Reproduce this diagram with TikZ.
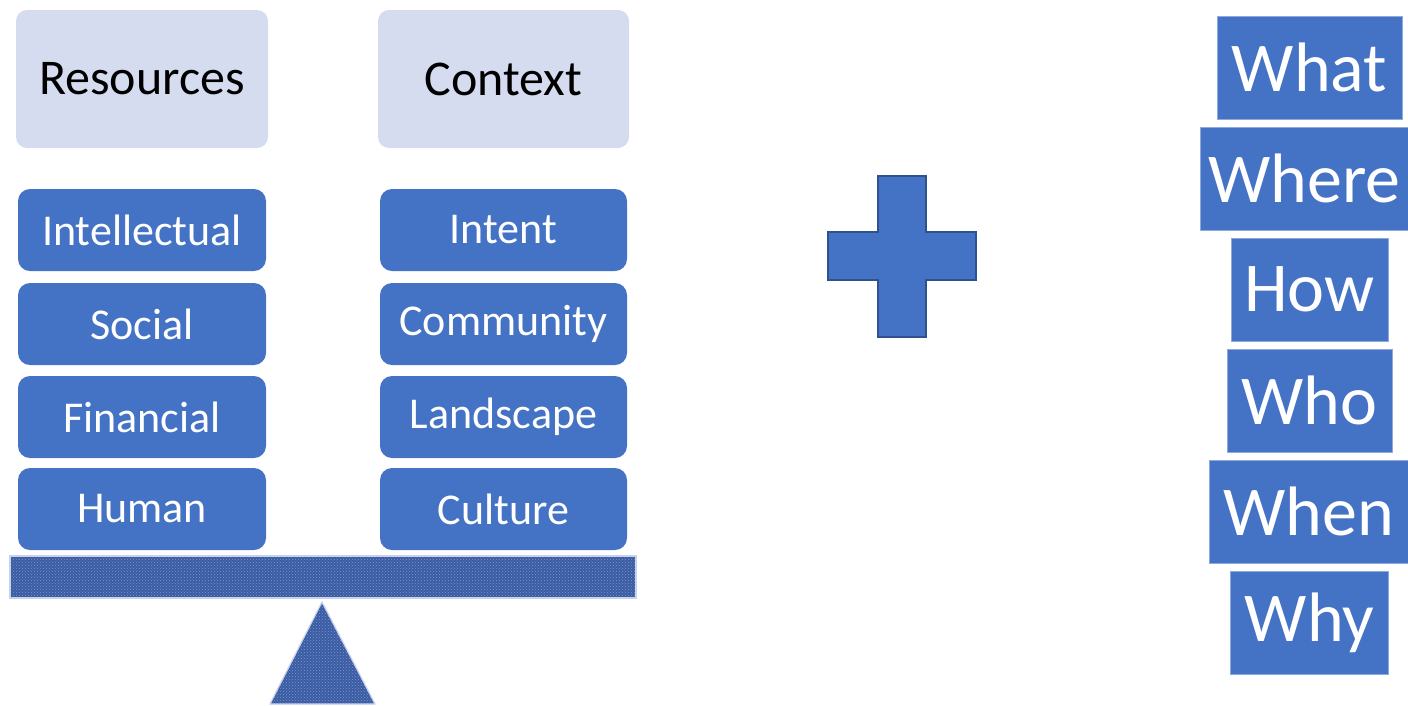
\documentclass[tikz,border=0pt]{standalone}
\usepackage{fontspec}
\setmainfont{Carlito}
\usetikzlibrary{patterns}
\definecolor{officeblue}{HTML}{4472C4}
\definecolor{lightbox}{HTML}{D6DCEF}
\definecolor{darkedge}{HTML}{2F528F}
\definecolor{beamblue}{HTML}{3A5CA3}
\definecolor{dotblue}{HTML}{7E96CC}
\definecolor{beamedge}{HTML}{C9D2EC}
\definecolor{wordedge}{HTML}{8EA9DB}
\tikzset{
  headbox/.style={rectangle, rounded corners=11pt, fill=lightbox, inner sep=0pt,
    minimum width=252pt, minimum height=138pt, font=\fontsize{50}{52}\selectfont, text=black},
  itembox/.style={rectangle, rounded corners=12pt, fill=officeblue, inner sep=0pt,
    minimum width=248pt, minimum height=82pt, font=\fontsize{44}{46}\selectfont, text=white},
  wordbox/.style={rectangle, fill=officeblue, draw=wordedge, line width=0.6pt, inner sep=0pt,
    minimum height=103pt, font=\fontsize{70}{72}\selectfont, text=white},
  beamstyle/.style={preaction={fill=beamblue}, pattern=crosshatch dots, pattern color=dotblue,
    draw=beamedge, line width=1.2pt},
  plusstyle/.style={fill=officeblue, draw=darkedge, line width=2.2pt}
}
\begin{document}
\begin{tikzpicture}[x=1pt,y=-1pt]
\useasboundingbox (0,0) rectangle (1408,705);
% headers
\node[headbox] (res) at (142,79) {Resources};
\node[headbox, minimum width=251pt] (ctx) at (503.5,79) {Context};
% left column
\node[itembox] (intel) at (142,230) {Intellectual};
\node[itembox] (soc) at (142,324) {Social};
\node[itembox] (fin) at (142,417) {Financial};
\node[itembox] (hum) at (142,509) {Human};
% right column
\node[itembox, minimum width=247pt] (intent) at (503.5,230) {Intent};
\node[itembox, minimum width=247pt] (comm) at (503.5,324) {Community};
\node[itembox, minimum width=247pt] (land) at (503.5,417) {Landscape};
\node[itembox, minimum width=247pt] (cult) at (503.5,509) {Culture};
% beam and fulcrum
\draw[beamstyle] (10,556) rectangle (636,598);
\draw[beamstyle, line join=round] (322,602) -- (375,704) -- (270,704) -- cycle;
% plus
\draw[plusstyle] (878,176) -- (926,176) -- (926,232) -- (976,232) -- (976,280) -- (926,280)
  -- (926,337) -- (878,337) -- (878,280) -- (828,280) -- (828,232) -- (878,232) -- cycle;
% words
\node[wordbox, minimum width=185pt] (what) at (1309.5,67.5) {What};
\node[wordbox, minimum width=209pt] (where) at (1304.5,178.5) {Where};
\node[wordbox, minimum width=157pt] (how) at (1309.5,289.5) {How};
\node[wordbox, minimum width=165pt] (who) at (1309.5,400.5) {Who};
\node[wordbox, minimum width=199pt] (when) at (1308.5,511.5) {When};
\node[wordbox, minimum width=158pt] (why) at (1309.5,622.5) {Why};
\end{tikzpicture}
\end{document}
